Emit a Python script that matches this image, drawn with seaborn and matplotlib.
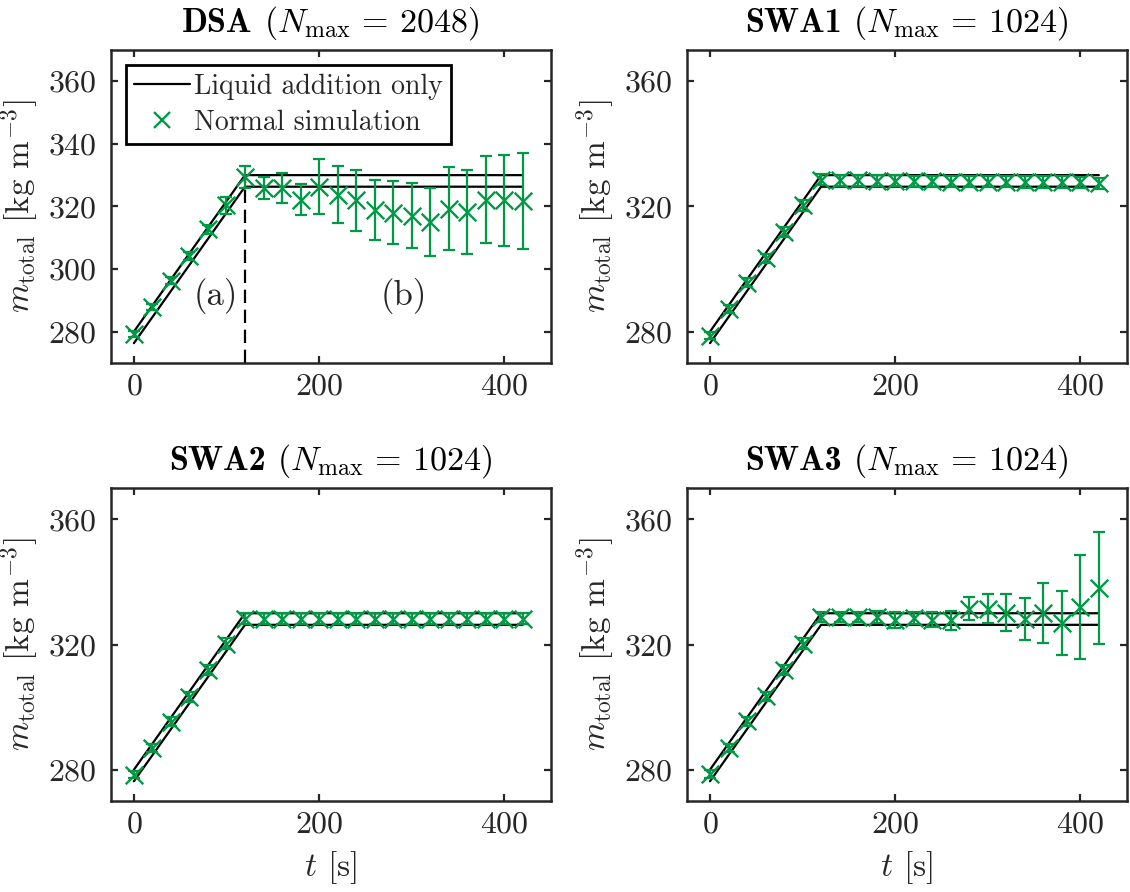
import matplotlib
matplotlib.use("Agg")
import matplotlib.pyplot as plt
import seaborn as sns
import pandas as pd
from matplotlib.lines import Line2D
from matplotlib.offsetbox import TextArea, HPacker, AnchoredOffsetbox

# ---------------- data ----------------
t = [0, 20, 40, 60, 80, 100, 120, 140, 160, 180, 200,
     220, 240, 260, 280, 300, 320, 340, 360, 380, 400, 420]

line_t = [0, 120, 420]
line_upper = [280.0, 330.0, 330.0]
line_lower = [276.3, 326.3, 326.3]
phase_boundary_t = 120

dsa_mean = [279.3, 287.9, 296.3, 304.2, 312.7, 320.3, 329.3, 325.8, 325.8, 322.2, 326.3,
            323.7, 321.9, 318.9, 318.0, 317.0, 315.0, 319.3, 318.2, 322.2, 321.9, 321.8]
dsa_err = [1.0, 1.0, 1.2, 1.2, 1.5, 2.7, 3.5, 3.5, 4.8, 5.0, 8.7,
           9.1, 9.7, 9.6, 10.0, 10.4, 10.9, 13.3, 13.4, 14.0, 14.5, 15.3]

swa1_mean = [278.7, 287.1, 295.6, 303.4, 311.9, 320.3, 328.5, 328.3, 328.3, 328.2, 328.2,
             328.0, 328.0, 327.9, 327.9, 327.9, 327.9, 327.8, 327.8, 327.8, 327.7, 327.4]
swa1_err = [1.2, 1.3, 1.4, 1.5, 1.6, 1.7, 1.8, 1.8, 1.8, 1.8, 1.8,
            1.8, 1.8, 1.8, 1.8, 1.8, 1.8, 1.8, 1.8, 1.8, 1.8, 1.8]

swa2_mean = [278.4, 286.9, 295.3, 303.3, 311.8, 320.3, 328.3, 328.3, 328.3, 328.3, 328.3,
             328.3, 328.3, 328.3, 328.3, 328.3, 328.3, 328.3, 328.3, 328.3, 328.3, 328.3]
swa2_err = [1.2, 1.3, 1.4, 1.5, 1.6, 1.7, 1.8, 1.8, 1.8, 1.8, 1.8,
            1.8, 1.8, 1.8, 1.8, 1.8, 1.8, 1.8, 1.8, 1.8, 1.8, 1.8]

swa3_mean = [278.6, 287.0, 295.5, 303.4, 311.9, 320.3, 328.8, 328.8, 328.8, 328.8, 327.8,
             328.5, 328.0, 327.8, 331.5, 331.5, 330.2, 328.3, 330.2, 327.0, 332.1, 338.1]
swa3_err = [1.2, 1.3, 1.4, 1.5, 1.6, 1.7, 1.6, 1.6, 1.7, 1.8, 2.5,
            2.0, 2.5, 3.0, 3.8, 4.5, 5.9, 6.7, 9.6, 10.2, 16.6, 17.8]

panel_names = ["DSA", "SWA1", "SWA2", "SWA3"]
panel_nmax = [2048, 1024, 1024, 1024]
panel_means = [dsa_mean, swa1_mean, swa2_mean, swa3_mean]
panel_errs = [dsa_err, swa1_err, swa2_err, swa3_err]

x_ticks = [0, 200, 400]
y_ticks = [280, 320, 360]
y_ticks_dsa = [280, 300, 320, 340, 360]
legend_labels = ["Liquid addition only", "Normal simulation"]

# ---------------- style ----------------
sns.set_theme(style="ticks")
plt.rcParams["font.family"] = ["cmr10", "DejaVu Serif"]
plt.rcParams["mathtext.fontset"] = "cm"
plt.rcParams["axes.formatter.use_mathtext"] = True
plt.rcParams["axes.unicode_minus"] = False

GREEN = "#009a46"
SPINE = "#262626"
TICK_FS = 23
LABEL_FS = 24
TITLE_FS = 24.5

fig, axes = plt.subplots(2, 2, figsize=(11.3, 8.92), dpi=100)
fig.subplots_adjust(left=0.098, right=0.997, top=0.944, bottom=0.102,
                    wspace=0.31, hspace=0.40)

for i, ax in enumerate(axes.flat):
    mean = panel_means[i]
    err = panel_errs[i]
    df_line = pd.DataFrame({"t": line_t + line_t,
                            "m": line_upper + line_lower,
                            "bound": ["upper"] * 3 + ["lower"] * 3})
    sns.lineplot(data=df_line, x="t", y="m", units="bound", estimator=None,
                 color="black", lw=1.6, ax=ax, zorder=2)
    ax.errorbar(t, mean, yerr=err, fmt="none", ecolor=GREEN, elinewidth=1.6,
                capsize=4.5, capthick=1.6, zorder=3)
    df_pts = pd.DataFrame({"t": t, "m": mean})
    sns.scatterplot(data=df_pts, x="t", y="m", marker="x", color=GREEN,
                    s=160, linewidth=1.7, ax=ax, zorder=4)

    ax.set_xlim(-25, 450)
    ax.set_ylim(270, 370)
    ax.set_xticks(x_ticks)
    ax.set_yticks(y_ticks_dsa if i == 0 else y_ticks)
    ax.tick_params(direction="in", top=True, right=True, length=5, width=1.6,
                   labelsize=TICK_FS, color=SPINE)
    ax.tick_params(axis="y", pad=10)
    ax.tick_params(axis="x", pad=7)
    for s in ax.spines.values():
        s.set_visible(True)
        s.set_linewidth(1.8)
        s.set_color(SPINE)

    # title: bold name + regular part
    ta_bold = TextArea(panel_names[i], textprops=dict(family="cmb10", fontsize=TITLE_FS, color="black"))
    ta_rest = TextArea(r"($N_{\mathrm{max}}\,=\,%d$)" % panel_nmax[i],
                       textprops=dict(family="cmr10", fontsize=TITLE_FS, color="black"))
    pack = HPacker(children=[ta_bold, ta_rest], align="baseline", pad=0, sep=8)
    ab = AnchoredOffsetbox(loc="lower center", child=pack, frameon=False, pad=0,
                           borderpad=0, bbox_to_anchor=(0.5, 1.025),
                           bbox_transform=ax.transAxes)
    ax.add_artist(ab)

    ax.set_ylabel(r"$m_{\mathrm{total}}$ [kg m$^{-3}$]", fontsize=LABEL_FS, labelpad=5)
    if i >= 2:
        ax.set_xlabel(r"$t$ [s]", fontsize=LABEL_FS, labelpad=8)
    else:
        ax.set_xlabel("")

ax0 = axes[0, 0]
ax0.vlines(phase_boundary_t, 270, line_upper[1], colors="black", linestyles=(0, (6, 3)), lw=1.6, zorder=2)
ax0.text(88, 291.5, "(a)", fontsize=25, ha="center", va="center")
ax0.text(292, 291.5, "(b)", fontsize=25, ha="center", va="center")

handles = [Line2D([0], [0], color="black", lw=1.6),
           Line2D([0], [0], color=GREEN, marker="x", linestyle="none", markersize=12, markeredgewidth=1.7)]
leg = ax0.legend(handles, legend_labels, loc="upper left", fontsize=20, frameon=True,
                 fancybox=False, framealpha=1, edgecolor="black", borderpad=0.3,
                 handlelength=2.0, handletextpad=0.15, borderaxespad=0.55, labelspacing=0.35)
leg.get_frame().set_linewidth(2.0)

fig.savefig("out.png", dpi=100)
